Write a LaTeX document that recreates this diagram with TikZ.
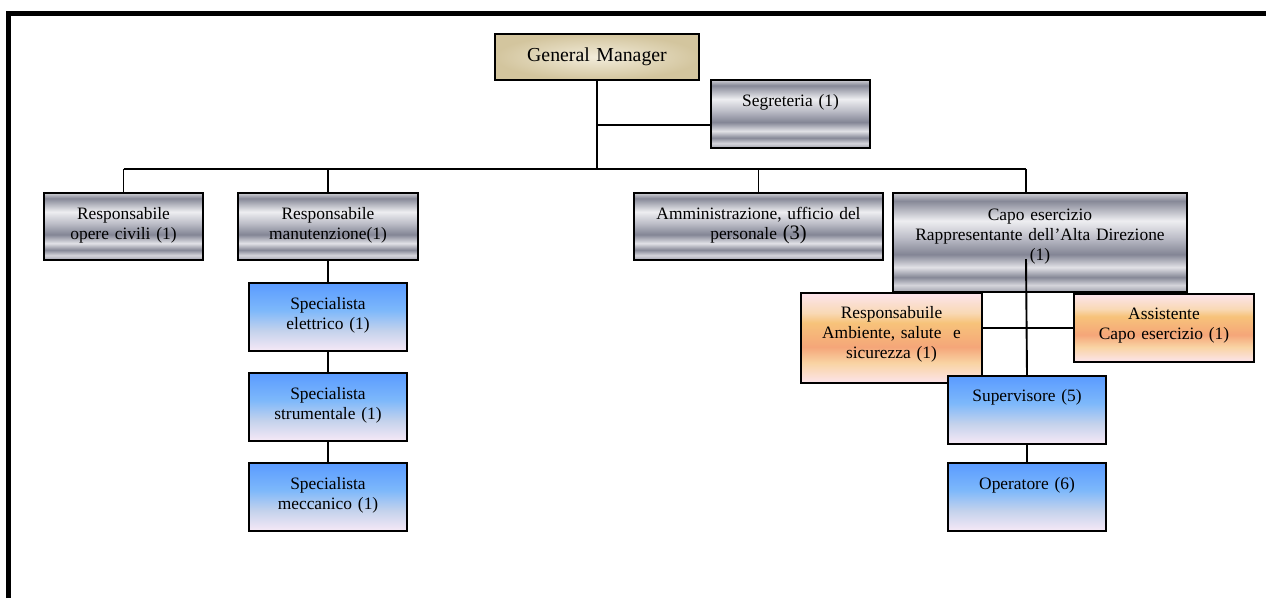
\documentclass[tikz,border=0pt]{standalone}
\usepackage{fontspec}
\setmainfont{Liberation Serif}

\definecolor{metA}{HTML}{CFCFD5}
\definecolor{metB}{HTML}{868897}
\definecolor{metC}{HTML}{EEEEF1}
\definecolor{metD}{HTML}{BDBEC8}
\definecolor{metE}{HTML}{838595}
\definecolor{metF}{HTML}{E2E2E7}
\definecolor{metG}{HTML}{D5D5DB}
\definecolor{metH}{HTML}{A0A1AD}
\definecolor{blueA}{HTML}{5A9BFF}
\definecolor{blueB}{HTML}{7DB8FB}
\definecolor{blueC}{HTML}{C4D2EC}
\definecolor{blueD}{HTML}{F7E9F6}
\definecolor{peachA}{HTML}{FCE4EC}
\definecolor{peachB}{HTML}{F9D9B5}
\definecolor{peachC}{HTML}{F7C37A}
\definecolor{peachD}{HTML}{F5A679}
\definecolor{peachE}{HTML}{F9D4A4}
\definecolor{gmIn}{HTML}{F2ECDA}
\definecolor{gmOut}{HTML}{D3C59E}

\pgfdeclareverticalshading{metal}{100bp}{color(0bp)=(metH); color(25bp)=(metH);
  color(28.5bp)=(metG); color(32.5bp)=(metB); color(37.5bp)=(metF); color(44bp)=(metE);
  color(52.5bp)=(metD); color(61bp)=(metC); color(71bp)=(metB); color(75bp)=(metA); color(100bp)=(metA)}
\pgfdeclareverticalshading{bluefill}{100bp}{color(0bp)=(blueD); color(25bp)=(blueD);
  color(40bp)=(blueC); color(55bp)=(blueB); color(75bp)=(blueA); color(100bp)=(blueA)}
\pgfdeclareverticalshading{peachfill}{100bp}{color(0bp)=(peachA); color(25bp)=(peachA);
  color(36bp)=(peachE); color(45bp)=(peachD); color(58.5bp)=(peachC); color(64bp)=(peachB);
  color(75bp)=(peachA); color(100bp)=(peachA)}

\tikzset{
  orgbox/.style={draw=black, line width=2pt, inner sep=0pt, align=center, anchor=north west,
    font=\fontsize{17.4pt}{20pt}\selectfont},
  greybox/.style={orgbox, shade, shading=metal},
  bluebox/.style={orgbox, shade, shading=bluefill},
  peachbox/.style={orgbox, shade, shading=peachfill},
  conn/.style={draw=black, line width=1.9pt}
}

\begin{document}
\begin{tikzpicture}[x=1pt,y=-1pt]
    \useasboundingbox (0,0) rectangle (1266,598);
    \draw[line width=5pt] (8.5,598) -- (8.5,13.5) -- (1266,13.5);

    \node[orgbox, inner color=gmIn, outer color=gmOut, text width=204pt, minimum height=46pt,
        font=\fontsize{19.8pt}{22pt}\selectfont] (gm) at (494,33) {General Manager};
    \node[greybox, text width=159pt, text height=26pt, text depth=42pt] (segr) at (710,79) {Segreteria (1)};

    \node[greybox, text width=159pt, text height=26pt, text depth=41pt] (civili) at (43,192) {Responsabile\\opere civili (1)};
    \node[greybox, text width=180pt, text height=26pt, text depth=41pt] (manut) at (237,192) {Responsabile\\manutenzione(1)};
    \node[greybox, text width=249pt, text height=26pt, text depth=41pt] (ammin) at (633,192)
        {Amministrazione, ufficio del\\personale {\fontsize{20.5pt}{20pt}\selectfont(3)}};
    \node[greybox, text width=294pt, text height=27pt, text depth=72pt] (capo) at (892,192)
        {Capo esercizio\\Rappresentante dell’Alta Direzione\\(1)};

    \node[bluebox, text width=158pt, text height=26pt, text depth=42pt] (elettr) at (248,282) {Specialista\\elettrico (1)};
    \node[bluebox, text width=158pt, text height=26pt, text depth=42pt] (strum) at (248,372) {Specialista\\strumentale (1)};
    \node[bluebox, text width=158pt, text height=26pt, text depth=42pt] (mecc) at (248,462) {Specialista\\meccanico (1)};

    \node[peachbox, text width=181pt, text height=25pt, text depth=65pt] (ambiente) at (800,292)
        {Responsabuile\\Ambiente, salute~ e\\sicurezza (1)};
    \node[peachbox, text width=180pt, text height=25pt, text depth=43pt] (assist) at (1073,293) {Assistente\\Capo esercizio (1)};
    \node[bluebox, text width=158pt, text height=25pt, text depth=43pt] (superv) at (947,375) {Supervisore (5)};
    \node[bluebox, text width=158pt, text height=26pt, text depth=42pt] (operat) at (947,462) {Operatore (6)};

    \coordinate (bus) at (0,169);
    \coordinate (capoline) at (1026,259);
    \coordinate (segrlink) at ([yshift=-11pt]segr.west);

    \draw[conn] (gm.south) -- (gm.south |- bus);
    \draw[conn] (segrlink) -- (gm.south |- segrlink);
    \draw[conn] (civili.north |- bus) -- (capoline |- bus);
    \foreach \n in {civili, manut, ammin}
        \draw[conn] (\n.north) -- (\n.north |- bus);
    \draw[conn] (capoline |- bus) -- (capoline |- capo.north);
    \draw[conn] (capoline) -- (superv.north);
    \draw[conn] (assist.west) -- (assist.west -| ambiente.east);
    \draw[conn] (manut.south) -- (elettr.north);
    \draw[conn] (elettr.south) -- (strum.north);
    \draw[conn] (strum.south) -- (mecc.north);
    \draw[conn] (superv.south) -- (operat.north);
\end{tikzpicture}
\end{document}
